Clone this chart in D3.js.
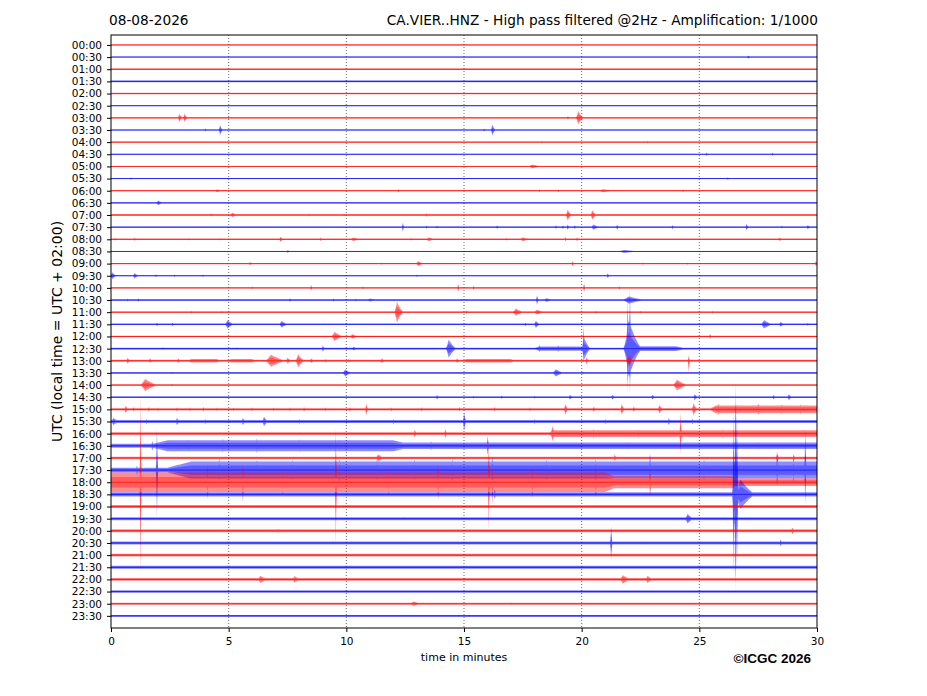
<!DOCTYPE html>
<html>
<head>
<meta charset="utf-8">
<script src="https://cdn.jsdelivr.net/npm/d3@7/dist/d3.min.js"></script>
<style>
  body { margin: 0; background: #fff; }
  text { font-family: "DejaVu Sans", sans-serif; }
</style>
</head>
<body>
<script>
// x ticks (minutes) and one label per half-hour row
var minutes = [0, 5, 10, 15, 20, 25, 30];
var rowLabels = ["00:00","00:30","01:00","01:30","02:00","02:30","03:00","03:30",
  "04:00","04:30","05:00","05:30","06:00","06:30","07:00","07:30",
  "08:00","08:30","09:00","09:30","10:00","10:30","11:00","11:30",
  "12:00","12:30","13:00","13:30","14:00","14:30","15:00","15:30",
  "16:00","16:30","17:00","17:30","18:00","18:30","19:00","19:30",
  "20:00","20:30","21:00","21:30","22:00","22:30","23:00","23:30"];
var rowColors = ["#ff0000", "#0000ff"];

// background noise half-amplitude of each row (in row spacings)
var rowNoise = [0.05,0.04,0.06,0.08,0.06,0.04,0.05,0.04,
  0.05,0.04,0.04,0.04,0.05,0.05,0.07,0.05,
  0.06,0.04,0.05,0.05,0.06,0.06,0.06,0.06,
  0.06,0.08,0.08,0.06,0.06,0.06,0.1,0.13,
  0.12,0.16,0.1,0.2,0.28,0.18,0.13,0.12,
  0.12,0.12,0.12,0.13,0.11,0.1,0.08,0.08];

// sustained noisy stretches: [row, start, end, amplitude, ramp]
var bands = [
  [25, 18.2, 20.0, 0.18, 0.3], [25, 22.2, 24.0, 0.2, 0.5],
  [26, 3.4, 4.5, 0.14, 0.2], [26, 5.1, 6.0, 0.14, 0.2], [26, 15.1, 17.0, 0.14, 0.2],
  [30, 25.7, 30, 0.32, 0.3],
  [32, 18.8, 30, 0.28, 0.3],
  [33, 2.4, 12.0, 0.45, 1.0], [33, 12.0, 30, 0.27, 2.0],
  [35, 3.4, 30, 0.7, 1.4],
  [36, 0, 21.0, 0.8, 1.0], [36, 21.0, 26.4, 0.5, 0.3], [36, 26.4, 30, 0.3, 0.3]
];

// wave trains and spikes: [row, minute, up, down, duration]
var events = [
  [1, 27.07, 0.12, 0.12, 0.15],
  [6, 2.9, 0.35, 0.35, 0.15], [6, 3.12, 0.35, 0.35, 0.15], [6, 5.0, 0.1, 0.1, 0.1],
  [6, 19.4, 0.12, 0.12, 0.2], [6, 19.85, 0.55, 0.55, 0.25],
  [7, 4.0, 0.13, 0.13, 0.1], [7, 4.63, 0.45, 0.45, 0.12], [7, 15.85, 0.12, 0.12, 0.1], [7, 16.2, 0.45, 0.45, 0.15],
  [8, 18.3, 0.1, 0.1, 0.1], [8, 22.8, 0.1, 0.1, 0.1],
  [9, 25.3, 0.12, 0.12, 0.12], [9, 28.1, 0.12, 0.12, 0.12],
  [10, 17.9, 0.15, 0.15, 0.5],
  [11, 0.85, 0.1, 0.1, 0.1], [11, 26.2, 0.1, 0.1, 0.1],
  [12, 4.5, 0.12, 0.12, 0.3], [12, 12.2, 0.15, 0.15, 0.1], [12, 18.2, 0.12, 0.12, 0.1],
  [12, 19.0, 0.12, 0.12, 0.1], [12, 20.9, 0.13, 0.13, 0.6], [12, 24.3, 0.12, 0.12, 0.1],
  [13, 2.0, 0.2, 0.2, 0.25],
  [14, 4.25, 0.15, 0.15, 0.1], [14, 5.15, 0.2, 0.2, 0.25], [14, 8.4, 0.12, 0.12, 0.1],
  [14, 9.9, 0.12, 0.12, 0.1], [14, 13.4, 0.14, 0.14, 0.15], [14, 19.4, 0.45, 0.45, 0.2], [14, 20.45, 0.4, 0.4, 0.2],
  [15, 12.4, 0.4, 0.4, 0.06], [15, 13.4, 0.12, 0.12, 0.1], [15, 13.85, 0.12, 0.12, 0.1],
  [15, 16.4, 0.15, 0.15, 0.1], [15, 18.9, 0.15, 0.15, 0.1], [15, 19.2, 0.15, 0.15, 0.1],
  [15, 19.4, 0.22, 0.22, 0.1], [15, 19.7, 0.15, 0.15, 0.1], [15, 20.5, 0.22, 0.22, 0.3],
  [15, 21.5, 0.22, 0.22, 0.1], [15, 23.85, 0.17, 0.17, 0.1], [15, 27.0, 0.28, 0.28, 0.1],
  [15, 28.5, 0.12, 0.12, 0.1], [15, 29.6, 0.15, 0.15, 0.2],
  [16, 0.17, 0.12, 0.12, 0.1], [16, 1.0, 0.14, 0.14, 0.1], [16, 3.3, 0.1, 0.1, 0.1],
  [16, 4.6, 0.1, 0.1, 0.1], [16, 7.2, 0.22, 0.22, 0.15], [16, 8.9, 0.15, 0.15, 0.1],
  [16, 10.3, 0.15, 0.15, 0.4], [16, 12.75, 0.12, 0.12, 0.1], [16, 13.5, 0.16, 0.16, 0.35],
  [16, 16.8, 0.12, 0.12, 0.1], [16, 17.5, 0.16, 0.16, 0.4], [16, 19.3, 0.18, 0.18, 0.1],
  [16, 19.8, 0.16, 0.16, 0.1], [16, 28.4, 0.14, 0.14, 0.2],
  [17, 7.5, 0.1, 0.1, 0.2], [17, 21.8, 0.12, 0.12, 0.8],
  [18, 5.9, 0.1, 0.1, 0.4], [18, 11.5, 0.1, 0.1, 0.1], [18, 13.05, 0.2, 0.2, 0.3],
  [18, 19.6, 0.2, 0.2, 0.1], [18, 22.6, 0.1, 0.1, 0.1], [18, 24.5, 0.1, 0.1, 0.1], [18, 29.95, 0.22, 0.22, 0.1],
  [19, 0.05, 0.28, 0.28, 0.2], [19, 1.0, 0.22, 0.22, 0.2], [19, 1.9, 0.12, 0.12, 0.1],
  [19, 2.7, 0.1, 0.1, 0.1], [19, 3.9, 0.1, 0.1, 0.1], [19, 13.0, 0.1, 0.1, 0.1], [19, 21.1, 0.2, 0.2, 0.1],
  [20, 6.0, 0.12, 0.12, 0.1], [20, 8.5, 0.25, 0.25, 0.06], [20, 10.7, 0.12, 0.12, 0.1],
  [20, 14.75, 0.35, 0.35, 0.06], [20, 15.4, 0.18, 0.18, 0.08], [20, 20.1, 0.4, 0.4, 0.06], [20, 21.6, 0.15, 0.15, 0.08],
  [21, 0.7, 0.12, 0.12, 0.1], [21, 1.15, 0.15, 0.15, 0.1], [21, 7.6, 0.15, 0.15, 0.1],
  [21, 9.45, 0.12, 0.12, 0.1], [21, 10.4, 0.12, 0.12, 0.1], [21, 11.0, 0.12, 0.12, 0.5],
  [21, 18.1, 0.4, 0.4, 0.08], [21, 18.5, 0.15, 0.15, 0.4], [21, 22.0, 0.3, 0.3, 0.8],
  [22, 3.4, 0.12, 0.12, 0.1], [22, 4.7, 0.1, 0.1, 0.1], [22, 12.15, 0.85, 0.85, 0.3],
  [22, 15.1, 0.15, 0.15, 0.1], [22, 17.2, 0.3, 0.3, 0.4], [22, 18.1, 0.2, 0.2, 0.4],
  [22, 20.6, 0.12, 0.12, 0.1], [22, 22.5, 0.12, 0.12, 0.1], [22, 25.55, 0.12, 0.12, 0.1],
  [23, 1.95, 0.15, 0.15, 0.1], [23, 2.6, 0.15, 0.15, 0.1], [23, 4.95, 0.35, 0.35, 0.3],
  [23, 7.25, 0.28, 0.28, 0.3], [23, 17.6, 0.15, 0.15, 0.1], [23, 18.05, 0.3, 0.3, 0.2],
  [23, 27.75, 0.35, 0.35, 0.4], [23, 28.45, 0.2, 0.2, 0.2], [23, 29.6, 0.12, 0.12, 0.1],
  [24, 9.5, 0.38, 0.38, 0.4], [24, 10.25, 0.2, 0.2, 0.3], [24, 25.45, 0.2, 0.2, 0.1],
  [25, 2.2, 0.12, 0.12, 0.1], [25, 5.35, 0.12, 0.12, 0.1], [25, 9.0, 0.3, 0.3, 0.08],
  [25, 10.3, 0.15, 0.15, 0.3], [25, 14.35, 0.75, 0.75, 0.35], [25, 18.2, 0.3, 0.3, 0.1],
  [25, 19.0, 0.25, 0.25, 0.2], [25, 20.1, 0.9, 0.9, 0.3], [25, 20.08, 1.9, 1.2, 0.05],
  [25, 22.0, 2.3, 2.3, 0.6], [25, 22.05, 5.0, 3.8, 0.05], [25, 21.95, 4.2, 3.6, 0.04],
  [26, 0.7, 0.25, 0.25, 0.15], [26, 1.65, 0.2, 0.2, 0.15], [26, 2.85, 0.2, 0.2, 0.15],
  [26, 6.8, 0.5, 0.5, 0.7], [26, 7.5, 0.25, 0.25, 0.2], [26, 7.95, 0.55, 0.55, 0.3],
  [26, 8.5, 0.2, 0.2, 0.2], [26, 9.1, 0.15, 0.15, 0.2], [26, 10.1, 0.15, 0.15, 0.2],
  [26, 11.5, 0.2, 0.2, 0.2], [26, 14.7, 0.2, 0.2, 0.15], [26, 20.2, 0.3, 0.3, 0.1],
  [26, 22.0, 0.5, 0.5, 0.2], [26, 24.55, 0.5, 1.0, 0.06],
  [27, 2.6, 0.1, 0.1, 0.1], [27, 9.95, 0.3, 0.3, 0.3], [27, 18.9, 0.3, 0.3, 0.4], [27, 20.05, 0.12, 0.12, 0.1],
  [28, 1.45, 0.5, 0.5, 0.6], [28, 2.6, 0.1, 0.1, 0.1], [28, 24.05, 0.45, 0.45, 0.5],
  [29, 13.85, 0.2, 0.2, 0.1], [29, 15.4, 0.12, 0.12, 0.1], [29, 16.6, 0.15, 0.15, 0.1],
  [29, 18.0, 0.12, 0.12, 0.1], [29, 19.5, 0.2, 0.2, 0.15], [29, 21.3, 0.2, 0.2, 0.15],
  [29, 23.0, 0.2, 0.2, 0.15], [29, 24.8, 0.25, 0.25, 0.15], [29, 28.15, 0.2, 0.2, 0.1], [29, 28.8, 0.25, 0.25, 0.15],
  [30, 0.62, 0.3, 0.3, 0.15], [30, 0.95, 0.2, 0.2, 0.1], [30, 1.6, 0.2, 0.2, 0.1],
  [30, 2.0, 0.15, 0.15, 0.1], [30, 2.8, 0.18, 0.18, 0.1], [30, 3.36, 0.15, 0.15, 0.1],
  [30, 3.92, 0.2, 0.2, 0.1], [30, 4.5, 0.15, 0.15, 0.1], [30, 5.2, 0.15, 0.15, 0.1],
  [30, 5.98, 0.18, 0.18, 0.1], [30, 6.9, 0.15, 0.15, 0.1], [30, 7.6, 0.18, 0.18, 0.1],
  [30, 8.2, 0.2, 0.2, 0.1], [30, 9.1, 0.18, 0.18, 0.1], [30, 10.15, 0.2, 0.2, 0.1],
  [30, 10.84, 0.5, 0.5, 0.1], [30, 11.9, 0.18, 0.18, 0.1], [30, 13.2, 0.2, 0.2, 0.1],
  [30, 14.8, 0.2, 0.2, 0.1], [30, 16.3, 0.2, 0.2, 0.1], [30, 17.8, 0.18, 0.18, 0.1],
  [30, 19.3, 0.45, 0.45, 0.15], [30, 20.5, 0.22, 0.22, 0.15], [30, 21.7, 0.45, 0.45, 0.15],
  [30, 22.2, 0.22, 0.22, 0.15], [30, 23.3, 0.35, 0.35, 0.2], [30, 24.75, 0.5, 0.5, 0.2],
  [30, 25.8, 0.45, 0.45, 0.3], [30, 26.6, 0.4, 0.4, 0.15], [30, 27.5, 0.45, 0.45, 0.3],
  [30, 28.5, 0.42, 0.42, 0.2], [30, 29.3, 0.4, 0.4, 0.2],
  [31, 0.1, 0.3, 0.3, 0.3], [31, 1.5, 0.2, 0.2, 0.1], [31, 2.8, 0.3, 0.3, 0.15],
  [31, 4.0, 0.2, 0.2, 0.1], [31, 5.6, 0.3, 0.3, 0.15], [31, 6.5, 0.4, 0.4, 0.2],
  [31, 8.0, 0.2, 0.2, 0.1], [31, 10.0, 0.2, 0.2, 0.1], [31, 12.0, 0.2, 0.2, 0.1],
  [31, 15.0, 0.8, 0.8, 0.1], [31, 18.0, 0.2, 0.2, 0.1], [31, 21.0, 0.2, 0.2, 0.1],
  [31, 23.7, 0.3, 0.3, 0.1], [31, 24.7, 0.22, 0.22, 0.1],
  [32, 12.9, 0.3, 0.3, 0.15], [32, 14.2, 0.4, 0.4, 0.1], [32, 18.75, 0.6, 0.6, 0.2],
  [32, 20.5, 0.36, 0.36, 0.2], [32, 22.4, 0.34, 0.34, 0.2], [32, 24.2, 1.7, 1.7, 0.06],
  [32, 26.0, 0.34, 0.34, 0.2], [32, 29.4, 0.3, 0.3, 0.1],
  [33, 1.75, 0.4, 0.4, 0.1], [33, 3.3, 0.5, 0.5, 0.15], [33, 4.75, 0.6, 0.6, 0.1],
  [33, 6.2, 0.6, 0.6, 0.1], [33, 8.0, 0.52, 0.52, 0.15], [33, 9.7, 0.5, 0.5, 0.1],
  [33, 11.2, 0.45, 0.45, 0.15], [33, 13.6, 0.35, 0.35, 0.15], [33, 16.0, 0.8, 0.8, 0.08],
  [33, 20.0, 0.3, 0.3, 0.1], [33, 22.0, 0.3, 0.3, 0.1], [33, 27.5, 0.3, 0.3, 0.1],
  [34, 11.35, 0.3, 0.3, 0.3], [34, 21.4, 0.3, 0.3, 0.1], [34, 28.3, 0.5, 0.5, 0.1], [34, 29.0, 0.3, 0.3, 0.1],
  [35, 1.1, 0.4, 0.4, 0.1], [35, 1.95, 3.5, 3.9, 0.04], [35, 4.6, 1.0, 0.8, 0.1],
  [35, 6.2, 0.8, 0.6, 0.1], [35, 7.7, 0.85, 0.8, 0.1], [35, 9.7, 0.9, 0.9, 0.1],
  [35, 11.3, 0.85, 0.8, 0.1], [35, 12.9, 0.85, 0.8, 0.1], [35, 14.5, 0.9, 0.9, 0.1],
  [35, 16.2, 1.1, 0.9, 0.1], [35, 18.5, 0.85, 0.8, 0.1], [35, 20.6, 0.9, 0.85, 0.1],
  [35, 22.9, 1.4, 1.0, 0.1], [35, 25.2, 0.85, 0.8, 0.1], [35, 28.3, 1.3, 1.3, 0.1],
  [35, 29.0, 1.0, 1.0, 0.1], [35, 29.5, 3.4, 2.9, 0.04],
  [36, 1.25, 7.2, 7.6, 0.04], [36, 4.1, 1.4, 1.4, 0.1], [36, 5.6, 1.5, 1.7, 0.1],
  [36, 7.3, 1.0, 1.0, 0.1], [36, 9.55, 4.5, 5.2, 0.04], [36, 11.8, 1.0, 1.0, 0.1],
  [36, 13.9, 1.4, 1.4, 0.1], [36, 16.05, 3.6, 4.0, 0.04], [36, 16.2, 1.3, 1.9, 0.08],
  [36, 17.9, 1.3, 1.3, 0.1], [36, 20.6, 1.3, 1.3, 0.1], [36, 22.9, 1.2, 1.2, 0.1],
  [37, 16.3, 0.4, 0.4, 0.1], [37, 26.45, 7.0, 6.8, 0.05], [37, 26.52, 7.5, 7.0, 0.05],
  [37, 26.6, 6.5, 6.0, 0.05], [37, 26.55, 9.4, 8.0, 0.05], [37, 26.75, 1.2, 1.2, 0.7],
  [39, 12.45, 0.15, 0.15, 0.1], [39, 24.5, 0.4, 0.4, 0.3],
  [40, 7.1, 0.18, 0.18, 0.1], [40, 28.95, 0.28, 0.28, 0.15],
  [41, 12.35, 0.15, 0.15, 0.1], [41, 21.25, 1.45, 1.45, 0.06], [41, 22.7, 0.15, 0.15, 0.1], [41, 28.45, 0.3, 0.3, 0.1],
  [44, 6.35, 0.3, 0.3, 0.4], [44, 7.8, 0.28, 0.28, 0.3], [44, 21.75, 0.35, 0.35, 0.4], [44, 22.8, 0.3, 0.3, 0.3],
  [46, 12.85, 0.18, 0.18, 0.5], [46, 17.0, 0.1, 0.1, 0.1],
  [47, 0.9, 0.1, 0.1, 0.1]
];

var W = 927, H = 696;
var plot = { left: 111, right: 817, top: 35, bottom: 628 };

var svg = d3.select("body").append("svg")
    .attr("width", W)
    .attr("height", H);

var x = d3.scaleLinear().domain([0, 30]).range([plot.left, plot.right]);
var y = d3.scaleLinear().domain([-0.82, 48.0]).range([plot.top, plot.bottom]);

svg.append("clipPath").attr("id", "clip")
    .append("rect")
    .attr("x", plot.left).attr("y", plot.top)
    .attr("width", plot.right - plot.left).attr("height", plot.bottom - plot.top);

// dotted vertical grid
svg.append("g").selectAll("line")
    .data(minutes.filter(m => m > 0 && m < 30))
    .enter().append("line")
    .attr("x1", d => x(d)).attr("x2", d => x(d))
    .attr("y1", plot.top).attr("y2", plot.bottom)
    .attr("stroke", "#444")
    .attr("stroke-width", 0.8)
    .attr("stroke-dasharray", "1,2");

// envelope shapes
function bandAmp(b, t) {
  if (t >= b[1] && t <= b[2]) return b[3];
  if (t < b[1]) return Math.max(0, b[3] * (1 - (b[1] - t) / b[4]));
  return Math.max(0, b[3] * (1 - (t - b[2]) / b[4]));
}
function eventShape(e, t) {
  var dur = Math.max(e[4], 0.06);
  var rise = Math.max(dur * 0.4, 0.04);
  var u;
  if (t <= e[1] && t >= e[1] - rise) u = 1 - (e[1] - t) / rise;
  else if (t > e[1] && t <= e[1] + dur) u = 1 - (t - e[1]) / dur;
  else return 0;
  return Math.pow(Math.max(0, Math.min(1, u)), 1.5);
}

var traces = svg.append("g").attr("clip-path", "url(#clip)");

rowLabels.forEach(function (label, r) {
  var evs = events.filter(e => e[0] === r);
  var bs = bands.filter(b => b[0] === r);
  var ts = d3.range(0, 30.0001, 0.02);
  evs.forEach(e => ts.push(e[1]));
  ts.sort((a, b) => a - b);

  var pts = ts.map(function (t) {
    var up = rowNoise[r], dn = rowNoise[r];
    bs.forEach(function (b) {
      var a = bandAmp(b, t);
      up = Math.max(up, a); dn = Math.max(dn, a);
    });
    evs.forEach(function (e) {
      var f = eventShape(e, t);
      up = Math.max(up, e[2] * f); dn = Math.max(dn, e[3] * f);
    });
    return { t: t, up: up, dn: dn };
  });

  var color = rowColors[r % 2];
  var area = d3.area()
      .x(d => x(d.t))
      .y0(d => y(r + d.dn))
      .y1(d => y(r - d.up));

  // outer envelope, light
  traces.append("path")
      .datum(pts)
      .attr("d", area)
      .attr("fill", color)
      .attr("fill-opacity", 0.45);

  // inner core, denser
  var core = d3.area()
      .x(d => x(d.t))
      .y0(d => y(r + d.dn * 0.55))
      .y1(d => y(r - d.up * 0.55));
  traces.append("path")
      .datum(pts)
      .attr("d", core)
      .attr("fill", color)
      .attr("fill-opacity", 0.35);

  traces.append("line")
      .attr("x1", x(0)).attr("x2", x(30))
      .attr("y1", y(r)).attr("y2", y(r))
      .attr("stroke", color)
      .attr("stroke-width", 0.9)
      .attr("stroke-opacity", 0.75);
});

// axes
var yAxis = svg.append("g")
    .attr("transform", "translate(" + plot.left + ",0)")
    .call(d3.axisLeft(y)
        .tickValues(d3.range(rowLabels.length))
        .tickFormat(i => rowLabels[i])
        .tickSize(4).tickPadding(5));
yAxis.select(".domain").remove();
yAxis.selectAll("text").attr("font-size", "10.5px").attr("fill", "#000")
    .style("font-family", "DejaVu Sans");

var xAxis = svg.append("g")
    .attr("transform", "translate(0," + plot.bottom + ")")
    .call(d3.axisBottom(x).tickValues(minutes).tickFormat(d3.format("d"))
        .tickSize(4).tickPadding(5.5));
xAxis.select(".domain").remove();
xAxis.selectAll("text").attr("font-size", "10.5px").attr("fill", "#000")
    .style("font-family", "DejaVu Sans");

// frame
svg.append("rect")
    .attr("x", plot.left).attr("y", plot.top)
    .attr("width", plot.right - plot.left).attr("height", plot.bottom - plot.top)
    .attr("fill", "none")
    .attr("stroke", "#000")
    .attr("stroke-width", 1);

// titles and labels
svg.append("text")
    .attr("x", 109).attr("y", 25)
    .attr("font-size", "13.7px")
    .text("08-08-2026");

svg.append("text")
    .attr("x", 818).attr("y", 25)
    .attr("text-anchor", "end")
    .attr("font-size", "13.7px")
    .text("CA.VIER..HNZ - High pass filtered @2Hz - Amplification: 1/1000");

svg.append("text")
    .attr("transform", "translate(62," + ((plot.top + plot.bottom) / 2) + ") rotate(-90)")
    .attr("text-anchor", "middle")
    .attr("font-size", "14px")
    .text("UTC (local time = UTC + 02:00)");

svg.append("text")
    .attr("x", (plot.left + plot.right) / 2).attr("y", 661)
    .attr("text-anchor", "middle")
    .attr("font-size", "11px")
    .text("time in minutes");

svg.append("text")
    .attr("x", 811).attr("y", 663)
    .attr("text-anchor", "end")
    .attr("font-size", "13.5px")
    .attr("font-weight", "bold")
    .style("font-family", "Liberation Sans, Arial, sans-serif")
    .text("\u00A9ICGC 2026");
</script>
</body>
</html>
